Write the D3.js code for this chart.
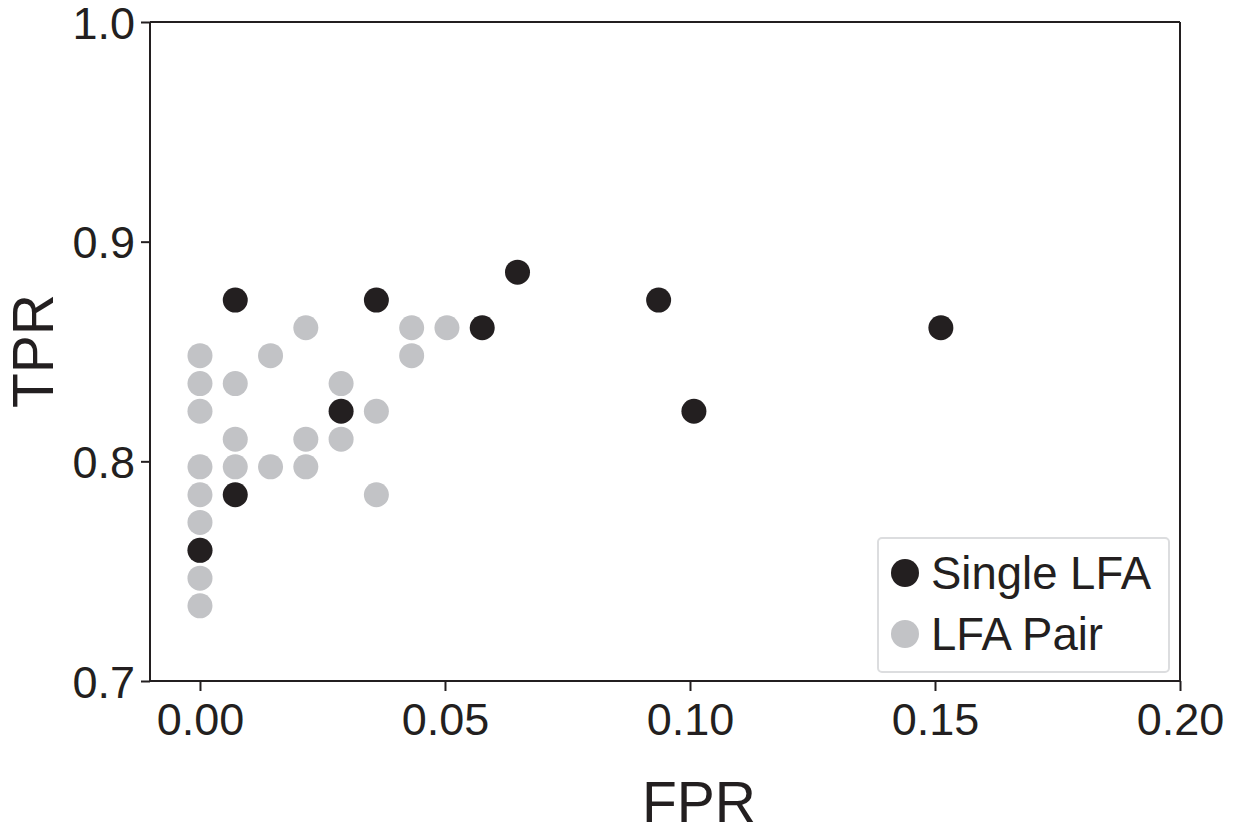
<!DOCTYPE html>
<html>
<head>
<meta charset="utf-8">
<script src="https://cdn.jsdelivr.net/npm/d3@7"></script>
<style>
  html, body { margin: 0; padding: 0; background: #fff; }
  svg { display: block; font-family: "Liberation Sans", Arial, Helvetica, sans-serif; }
</style>
</head>
<body>
<svg id="chart" width="1244" height="830"></svg>
<script>
// Operating points (FPR, TPR) for single LFAs and LFA pairs
const singleFPR = [0.0000, 0.0072, 0.0072, 0.0288, 0.0360, 0.0576, 0.0648, 0.0936, 0.1008, 0.1512];
const singleTPR = [0.7595, 0.7848, 0.8734, 0.8228, 0.8734, 0.8608, 0.8861, 0.8734, 0.8228, 0.8608];

const pairFPR = [
  0.0000, 0.0000, 0.0000, 0.0000, 0.0000, 0.0000, 0.0000, 0.0000, 0.0000,
  0.0072, 0.0072, 0.0072,
  0.0144, 0.0144,
  0.0216, 0.0216, 0.0216,
  0.0288, 0.0288,
  0.0360, 0.0360,
  0.0432, 0.0432,
  0.0504
];
const pairTPR = [
  0.8481, 0.8354, 0.8228, 0.7975, 0.7848, 0.7722, 0.7468, 0.7342, 0.7595,
  0.8354, 0.8101, 0.7975,
  0.8481, 0.7975,
  0.8608, 0.8101, 0.7975,
  0.8354, 0.8101,
  0.8228, 0.7848,
  0.8608, 0.8481,
  0.8608
];

const xTicks = [0.00, 0.05, 0.10, 0.15, 0.20];
const yTicks = [0.7, 0.8, 0.9, 1.0];
const seriesNames = ["Single LFA", "LFA Pair"];
const seriesColors = ["#231f20", "#c2c3c6"];

const svg = d3.select("#chart");
const plotLeft = 150, plotRight = 1180, plotTop = 22, plotBottom = 681;

const x = d3.scaleLinear().domain([-0.0102, 0.20]).range([plotLeft, plotRight]);
const y = d3.scaleLinear().domain([0.7, 1.0]).range([plotBottom, plotTop]);

const ink = "#231f20";

// Frame: top and right edges
svg.append("line").attr("x1", plotLeft).attr("x2", plotRight).attr("y1", plotTop).attr("y2", plotTop)
  .attr("stroke", ink).attr("stroke-width", 2);
svg.append("line").attr("x1", plotRight).attr("x2", plotRight).attr("y1", plotTop).attr("y2", plotBottom)
  .attr("stroke", ink).attr("stroke-width", 2);

// Axes
const xAxis = svg.append("g").attr("transform", `translate(0,${plotBottom})`)
  .call(d3.axisBottom(x).tickValues(xTicks).tickFormat(d3.format(".2f")).tickSize(10).tickPadding(12));
const yAxis = svg.append("g").attr("transform", `translate(${plotLeft},0)`)
  .call(d3.axisLeft(y).tickValues(yTicks).tickFormat(d3.format(".1f")).tickSize(9).tickPadding(6));

[xAxis, yAxis].forEach(g => {
  g.select(".domain").attr("stroke", ink).attr("stroke-width", 2);
  g.selectAll(".tick line").attr("stroke", ink).attr("stroke-width", 2);
  g.selectAll(".tick text").attr("fill", ink).attr("font-size", 45)
    .attr("font-family", "'Liberation Sans', Arial, sans-serif");
});
xAxis.select(".domain").attr("d", `M${plotLeft},0H${plotRight}`);
yAxis.select(".domain").attr("d", `M0,${plotBottom}V${plotTop}`);
xAxis.selectAll(".tick text").attr("dy", "0.71em");
yAxis.selectAll(".tick text").attr("dy", "0.36em");

// Axis titles
svg.append("text").attr("x", 699).attr("y", 822).attr("text-anchor", "middle")
  .attr("font-size", 57).attr("fill", ink).text("FPR");
svg.append("text").attr("transform", "translate(53,351) rotate(-90)").attr("text-anchor", "middle")
  .attr("font-size", 57).attr("fill", ink).text("TPR");

// Points: pairs underneath, singles on top
const r = 12.5;
svg.append("g").selectAll("circle").data(d3.range(pairFPR.length)).join("circle")
  .attr("cx", i => x(pairFPR[i])).attr("cy", i => y(pairTPR[i])).attr("r", r)
  .attr("fill", seriesColors[1]);
svg.append("g").selectAll("circle").data(d3.range(singleFPR.length)).join("circle")
  .attr("cx", i => x(singleFPR[i])).attr("cy", i => y(singleTPR[i])).attr("r", r)
  .attr("fill", seriesColors[0]);

// Legend
const legend = svg.append("g");
legend.append("rect").attr("x", 878).attr("y", 538).attr("width", 291).attr("height", 134)
  .attr("rx", 4).attr("fill", "#fff").attr("stroke", "#dcdddf").attr("stroke-width", 2);
seriesNames.forEach((name, i) => {
  const cy = 573 + i * 61;
  legend.append("circle").attr("cx", 905).attr("cy", cy).attr("r", 14).attr("fill", seriesColors[i]);
  legend.append("text").attr("x", 931).attr("y", cy).attr("dy", "0.36em")
    .attr("font-size", 45.5).attr("fill", ink).text(name);
});
</script>
</body>
</html>
